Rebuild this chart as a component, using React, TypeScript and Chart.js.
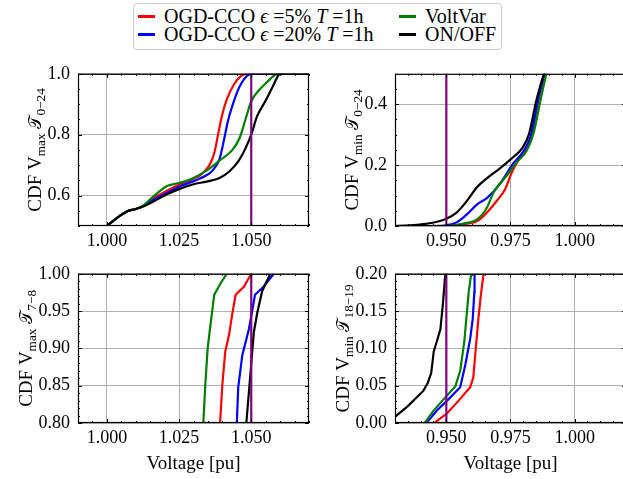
import React, { useEffect, useRef } from "react";
import { Chart, registerables } from "chart.js";

Chart.register(...registerables);

const FONT = "'Liberation Serif', 'Times New Roman', serif";
const TICK_SIZE = 18;
const LABEL_SIZE = 19;

// ---------- legend / series ----------
const SERIES_NAMES = ["OGD-CCO ϵ =5% T =1h", "OGD-CCO ϵ =20% T =1h", "VoltVar", "ON/OFF"];
const SERIES_COLORS = ["#ff0000", "#0000ff", "#008000", "#000000"];
const LIMIT_COLOR = "#800080";
const V_UPPER = 1.05;
const V_LOWER = 0.95;

// ---------- tick labels ----------
const XTICKS_VMAX = [1.0, 1.025, 1.05];
const XTICKS_VMIN = [0.95, 0.975, 1.0];
const YTICKS_VMAX_DAY = [0.6, 0.8, 1.0];
const YTICKS_VMIN_DAY = [0.0, 0.2, 0.4];
const YTICKS_VMAX_MORNING = [0.8, 0.85, 0.9, 0.95, 1.0];
const YTICKS_VMIN_EVENING = [0.0, 0.05, 0.1, 0.15, 0.2];

type Pt = [number, number];

// ---------- V_max, T 0-24 ----------
const VMAX_DAY_RED: Pt[] = [[1.0, 0.5], [1.004, 0.53], [1.0069, 0.548], [1.01, 0.556], [1.0126, 0.567], [1.016, 0.59], [1.02, 0.612], [1.0252, 0.636], [1.03, 0.655], [1.033, 0.672], [1.0355, 0.7], [1.0372, 0.74], [1.0385, 0.8], [1.0398, 0.86], [1.0415, 0.915], [1.044, 0.965], [1.0465, 0.993], [1.0485, 1.0], [1.07, 1.0]];
const VMAX_DAY_BLUE: Pt[] = [[1.0, 0.5], [1.004, 0.53], [1.0069, 0.548], [1.01, 0.556], [1.0126, 0.566], [1.016, 0.585], [1.02, 0.605], [1.0252, 0.63], [1.032, 0.655], [1.0366, 0.682], [1.039, 0.72], [1.0405, 0.78], [1.0418, 0.84], [1.0435, 0.896], [1.0458, 0.955], [1.0485, 0.993], [1.0503, 1.0], [1.07, 1.0]];
const VMAX_DAY_GREEN: Pt[] = [[1.0, 0.5], [1.004, 0.53], [1.0069, 0.548], [1.01, 0.556], [1.0126, 0.567], [1.015, 0.588], [1.018, 0.612], [1.021, 0.632], [1.0252, 0.642], [1.03, 0.658], [1.0345, 0.682], [1.039, 0.715], [1.0435, 0.75], [1.046, 0.79], [1.048, 0.85], [1.05, 0.91], [1.0526, 0.945], [1.0555, 0.973], [1.0585, 0.998], [1.06, 1.0], [1.07, 1.0]];
const VMAX_DAY_BLACK: Pt[] = [[1.0, 0.5], [1.004, 0.53], [1.0069, 0.548], [1.01, 0.556], [1.013, 0.566], [1.017, 0.585], [1.021, 0.605], [1.0252, 0.622], [1.03, 0.637], [1.0345, 0.646], [1.039, 0.658], [1.0425, 0.68], [1.0455, 0.712], [1.048, 0.755], [1.05, 0.8], [1.052, 0.86], [1.055, 0.912], [1.0578, 0.965], [1.0597, 0.998], [1.061, 1.0], [1.07, 1.0]];

// ---------- V_min, T 0-24 ----------
const VMIN_DAY_RED: Pt[] = [[0.93, 0.0], [0.95, 0.0], [0.9567, 0.006], [0.962, 0.016], [0.9658, 0.044], [0.9696, 0.082], [0.9729, 0.121], [0.9755, 0.176], [0.9787, 0.225], [0.9815, 0.262], [0.9834, 0.3], [0.9857, 0.405], [0.9884, 0.5], [0.9899, 0.54]];
const VMIN_DAY_BLUE: Pt[] = [[0.93, 0.0], [0.946, 0.0], [0.95, 0.002], [0.954, 0.012], [0.958, 0.038], [0.962, 0.071], [0.966, 0.093], [0.971, 0.14], [0.976, 0.205], [0.98, 0.245], [0.983, 0.3], [0.9855, 0.405], [0.9882, 0.5], [0.9897, 0.54]];
const VMIN_DAY_GREEN: Pt[] = [[0.93, 0.0], [0.95, 0.0], [0.9567, 0.008], [0.962, 0.022], [0.9658, 0.06], [0.9684, 0.11], [0.971, 0.14], [0.9735, 0.165], [0.9774, 0.209], [0.9813, 0.247], [0.9839, 0.302], [0.9864, 0.401], [0.989, 0.5], [0.9905, 0.54]];
const VMIN_DAY_BLACK: Pt[] = [[0.93, 0.0], [0.936, 0.002], [0.941, 0.006], [0.946, 0.013], [0.95, 0.024], [0.954, 0.044], [0.958, 0.082], [0.962, 0.128], [0.966, 0.158], [0.971, 0.19], [0.9755, 0.222], [0.9795, 0.255], [0.9822, 0.302], [0.985, 0.41], [0.988, 0.5], [0.9895, 0.54]];

// ---------- V_max, T 7-8 ----------
const VMAX_MORNING_RED: Pt[] = [[1.0391, 0.78], [1.0392, 0.8], [1.04, 0.852], [1.041, 0.896], [1.0423, 0.918], [1.0435, 0.948], [1.0446, 0.972], [1.0475, 0.983], [1.05, 1.0]];
const VMAX_MORNING_BLUE: Pt[] = [[1.0449, 0.78], [1.045, 0.8], [1.0455, 0.848], [1.0469, 0.891], [1.0492, 0.926], [1.0513, 0.972], [1.0543, 0.983], [1.0578, 1.0]];
const VMAX_MORNING_GREEN: Pt[] = [[1.0332, 0.78], [1.0334, 0.8], [1.0341, 0.852], [1.0349, 0.9], [1.0357, 0.926], [1.0372, 0.972], [1.0395, 0.988], [1.0415, 1.0]];
const VMAX_MORNING_BLACK: Pt[] = [[1.0482, 0.78], [1.0483, 0.8], [1.0498, 0.87], [1.0509, 0.922], [1.0521, 0.948], [1.0538, 0.977], [1.0566, 1.0]];

// ---------- V_min, T 18-19 ----------
const VMIN_EVENING_RED: Pt[] = [[0.9448, -0.003], [0.9453, 0.0], [0.9503, 0.013], [0.9548, 0.03], [0.9593, 0.048], [0.9605, 0.061], [0.9616, 0.105], [0.9625, 0.14], [0.9634, 0.17], [0.9645, 0.2]];
const VMIN_EVENING_BLUE: Pt[] = [[0.9418, -0.003], [0.9422, 0.0], [0.9464, 0.017], [0.9509, 0.032], [0.9554, 0.048], [0.9574, 0.078], [0.9593, 0.113], [0.9603, 0.14], [0.9609, 0.175], [0.961, 0.2]];
const VMIN_EVENING_GREEN: Pt[] = [[0.941, -0.003], [0.9415, 0.0], [0.9451, 0.017], [0.949, 0.032], [0.9535, 0.049], [0.9554, 0.07], [0.957, 0.109], [0.958, 0.148], [0.9587, 0.175], [0.9597, 0.2]];
const VMIN_EVENING_BLACK: Pt[] = [[0.928, 0.004], [0.9302, 0.009], [0.9348, 0.022], [0.941, 0.043], [0.9428, 0.054], [0.9441, 0.067], [0.9451, 0.096], [0.9466, 0.113], [0.9477, 0.126], [0.9487, 0.161], [0.9496, 0.2]];

// y-axis titles: [text, kind] kind 0=normal, 1=subscript, 2=calligraphic
type Part = [string, number];
const YLABEL_VMAX_DAY: Part[] = [["CDF V", 0], ["max", 1], [" ", 0], ["𝒯", 2], ["0−24", 1]];
const YLABEL_VMIN_DAY: Part[] = [["CDF V", 0], ["min", 1], [" ", 0], ["𝒯", 2], ["0−24", 1]];
const YLABEL_VMAX_MORNING: Part[] = [["CDF V", 0], ["max", 1], [" ", 0], ["𝒯", 2], ["7−8", 1]];
const YLABEL_VMIN_EVENING: Part[] = [["CDF V", 0], ["min", 1], [" ", 0], ["𝒯", 2], ["18−19", 1]];
const XLABEL = "Voltage [pu]";

type Spec = {
  left: number; top: number; w: number; h: number;
  yWidth: number; padTop: number; padRight: number; xHeight: number;
  xMin: number; xMax: number; yMin: number; yMax: number;
  xTicks: number[]; yTicks: number[]; xMinor: number; yMinor: number;
  xDigits: number; yDigits: number;
  curves: Pt[][]; limit: number; smooth: boolean;
  yLabel: Part[]; xLabel?: string;
};

function drawYTitle(ctx: CanvasRenderingContext2D, parts: Part[], x: number, cy: number) {
  const size = LABEL_SIZE;
  const sub = size * 0.7;
  const fonts = parts.map(([, k]) =>
    k === 1 ? `${sub}px ${FONT}` : k === 2 ? `${size * 0.9}px ${FONT}` : `${size}px ${FONT}`
  );
  const widths = parts.map(([t], i) => {
    ctx.font = fonts[i];
    return ctx.measureText(t).width;
  });
  const total = widths.reduce((a, b) => a + b, 0);
  ctx.save();
  ctx.translate(x, cy);
  ctx.rotate(-Math.PI / 2);
  ctx.fillStyle = "#000";
  ctx.textAlign = "left";
  ctx.textBaseline = "alphabetic";
  let pos = -total / 2;
  parts.forEach(([t, k], i) => {
    ctx.font = fonts[i];
    ctx.fillText(t, pos, k === 1 ? size * 0.25 : 0);
    pos += widths[i];
  });
  ctx.restore();
}

function makeFramePlugin(s: Spec) {
  return {
    id: "frameTicks",
    afterDatasetsDraw(chart: any) {
      const { ctx, chartArea: a } = chart;
      const xs = chart.scales.x;
      const ys = chart.scales.y;
      ctx.save();
      ctx.strokeStyle = "#000";
      ctx.lineWidth = 1;
      ctx.beginPath();
      const isMajor = (v: number, list: number[]) => list.some((m) => Math.abs(m - v) < 1e-9);
      const xv: [number, number][] = [];
      s.xTicks.forEach((v) => xv.push([v, 4]));
      for (let k = Math.ceil(s.xMin / s.xMinor - 1e-9); k * s.xMinor <= s.xMax + 1e-9; k++) {
        const v = +(k * s.xMinor).toFixed(6);
        if (!isMajor(v, s.xTicks)) xv.push([v, 2]);
      }
      xv.forEach(([v, len]) => {
        const px = Math.round(xs.getPixelForValue(v)) + 0.5;
        ctx.moveTo(px, a.bottom);
        ctx.lineTo(px, a.bottom - len);
        ctx.moveTo(px, a.top);
        ctx.lineTo(px, a.top + len);
      });
      const yv: [number, number][] = [];
      s.yTicks.forEach((v) => yv.push([v, 4]));
      for (let k = Math.ceil(s.yMin / s.yMinor - 1e-9); k * s.yMinor <= s.yMax + 1e-9; k++) {
        const v = +(k * s.yMinor).toFixed(6);
        if (!isMajor(v, s.yTicks)) yv.push([v, 2]);
      }
      yv.forEach(([v, len]) => {
        const py = Math.round(ys.getPixelForValue(v)) + 0.5;
        ctx.moveTo(a.left, py);
        ctx.lineTo(a.left + len, py);
        ctx.moveTo(a.right, py);
        ctx.lineTo(a.right - len, py);
      });
      ctx.stroke();
      ctx.lineWidth = 1.2;
      ctx.strokeRect(a.left + 0.5, a.top + 0.5, a.right - a.left - 1, a.bottom - a.top - 1);
      ctx.restore();
    },
    afterDraw(chart: any) {
      const { ctx, chartArea: a } = chart;
      const ys = chart.scales.y;
      ctx.save();
      ctx.font = `${TICK_SIZE}px ${FONT}`;
      let maxW = 0;
      ys.ticks.forEach((t: any) => {
        maxW = Math.max(maxW, ctx.measureText(String(t.label)).width);
      });
      ctx.restore();
      drawYTitle(ctx, s.yLabel, a.left - 8 - maxW - 7, (a.top + a.bottom) / 2);
    },
  };
}

function Panel({ s }: { s: Spec }) {
  const ref = useRef<HTMLCanvasElement>(null);
  useEffect(() => {
    const datasets: any[] = [
      {
        label: "limit",
        data: [{ x: s.limit, y: s.yMin - 1 }, { x: s.limit, y: s.yMax + 1 }],
        borderColor: LIMIT_COLOR,
        backgroundColor: LIMIT_COLOR,
        borderWidth: 2.2,
        pointRadius: 0,
        tension: 0,
        order: 0,
      },
      ...s.curves.map((c, i) => ({
        label: SERIES_NAMES[i],
        data: c.map(([x, y]) => ({ x, y })),
        borderColor: SERIES_COLORS[i],
        backgroundColor: SERIES_COLORS[i],
        borderWidth: 2.2,
        pointRadius: 0,
        tension: 0,
        cubicInterpolationMode: s.smooth ? "monotone" : "default",
        order: 4 - i,
      })),
    ];
    const chart = new Chart(ref.current as HTMLCanvasElement, {
      type: "line",
      data: { datasets },
      plugins: [makeFramePlugin(s)],
      options: {
        animation: false,
        responsive: false,
        maintainAspectRatio: false,
        devicePixelRatio: 1,
        events: [],
        layout: { padding: { top: s.padTop, right: s.padRight, left: 0, bottom: 0 } },
        plugins: { legend: { display: false }, tooltip: { enabled: false } },
        scales: {
          x: {
            type: "linear",
            min: s.xMin,
            max: s.xMax,
            afterBuildTicks: (sc: any) => {
              sc.ticks = s.xTicks.map((v) => ({ value: v }));
            },
            afterFit: (sc: any) => {
              sc.height = s.xHeight;
            },
            grid: { color: "#b0b0b0", lineWidth: 1, drawTicks: false },
            border: { display: false },
            ticks: {
              color: "#000",
              font: { family: FONT, size: TICK_SIZE },
              padding: 4,
              maxRotation: 0,
              autoSkip: false,
              callback: (v: any) => Number(v).toFixed(s.xDigits),
            },
            title: s.xLabel
              ? {
                  display: true,
                  text: s.xLabel,
                  color: "#000",
                  font: { family: FONT, size: LABEL_SIZE },
                  padding: { top: 0, bottom: 4 },
                }
              : { display: false },
          },
          y: {
            type: "linear",
            min: s.yMin,
            max: s.yMax,
            afterBuildTicks: (sc: any) => {
              sc.ticks = s.yTicks.map((v) => ({ value: v }));
            },
            afterFit: (sc: any) => {
              sc.width = s.yWidth;
            },
            grid: { color: "#b0b0b0", lineWidth: 1, drawTicks: false },
            border: { display: false },
            ticks: {
              color: "#000",
              font: { family: FONT, size: TICK_SIZE },
              padding: 8,
              autoSkip: false,
              callback: (v: any) => Number(v).toFixed(s.yDigits),
            },
          },
        },
      } as any,
    });
    return () => chart.destroy();
  }, []);
  return (
    <canvas
      ref={ref}
      width={s.w}
      height={s.h}
      style={{ position: "absolute", left: s.left, top: s.top, width: s.w, height: s.h }}
    />
  );
}

const LEGEND_POS: [number, number][] = [[0, 0], [0, 1], [1, 0], [1, 1]];

function renderName(name: string) {
  return name.split(/(ϵ|\bT\b)/).map((p, i) =>
    p === "ϵ" || p === "T" ? (
      <i key={i}>{p}</i>
    ) : (
      <span key={i}>{p}</span>
    )
  );
}

function LegendBox() {
  return (
    <div
      style={{
        position: "absolute",
        left: 133,
        top: 3,
        width: 369,
        height: 47,
        boxSizing: "border-box",
        border: "1px solid #cccccc",
        borderRadius: 4,
        background: "rgba(255,255,255,0.8)",
        fontFamily: FONT,
        fontSize: 20,
        color: "#000",
      }}
    >
      {SERIES_NAMES.map((n, i) => {
        const [col, row] = LEGEND_POS[i];
        const x0 = col === 0 ? 4 : 265;
        const cy = row === 0 ? 12 : 30;
        return (
          <div key={i}>
            <div
              style={{
                position: "absolute",
                left: x0,
                top: cy - 1,
                width: 17,
                height: 2.5,
                background: SERIES_COLORS[i],
              }}
            />
            <div
              style={{
                position: "absolute",
                left: x0 + 26,
                top: cy - 11,
                height: 22,
                lineHeight: "22px",
                whiteSpace: "nowrap",
              }}
            >
              {renderName(n)}
            </div>
          </div>
        );
      })}
    </div>
  );
}

const SPECS: Spec[] = [
  {
    left: 0, top: 55, w: 320, h: 200, yWidth: 78, padTop: 18, padRight: 11, xHeight: 29,
    xMin: 0.99, xMax: 1.07, yMin: 0.5, yMax: 1.0, xTicks: XTICKS_VMAX, yTicks: YTICKS_VMAX_DAY,
    xMinor: 0.005, yMinor: 0.05, xDigits: 3, yDigits: 1,
    curves: [VMAX_DAY_RED, VMAX_DAY_BLUE, VMAX_DAY_GREEN, VMAX_DAY_BLACK], limit: V_UPPER, smooth: true,
    yLabel: YLABEL_VMAX_DAY,
  },
  {
    left: 320, top: 55, w: 310, h: 200, yWidth: 75, padTop: 18, padRight: 4, xHeight: 29,
    xMin: 0.93, xMax: 1.02, yMin: 0.0, yMax: 0.5, xTicks: XTICKS_VMIN, yTicks: YTICKS_VMIN_DAY,
    xMinor: 0.005, yMinor: 0.05, xDigits: 3, yDigits: 1,
    curves: [VMIN_DAY_RED, VMIN_DAY_BLUE, VMIN_DAY_GREEN, VMIN_DAY_BLACK], limit: V_LOWER, smooth: true,
    yLabel: YLABEL_VMIN_DAY,
  },
  {
    left: 0, top: 255, w: 320, h: 224, yWidth: 78, padTop: 15, padRight: 11, xHeight: 56,
    xMin: 0.99, xMax: 1.07, yMin: 0.8, yMax: 1.0, xTicks: XTICKS_VMAX, yTicks: YTICKS_VMAX_MORNING,
    xMinor: 0.005, yMinor: 0.01, xDigits: 3, yDigits: 2,
    curves: [VMAX_MORNING_RED, VMAX_MORNING_BLUE, VMAX_MORNING_GREEN, VMAX_MORNING_BLACK], limit: V_UPPER, smooth: false,
    yLabel: YLABEL_VMAX_MORNING, xLabel: XLABEL,
  },
  {
    left: 320, top: 255, w: 310, h: 224, yWidth: 75, padTop: 15, padRight: 4, xHeight: 56,
    xMin: 0.93, xMax: 1.02, yMin: 0.0, yMax: 0.2, xTicks: XTICKS_VMIN, yTicks: YTICKS_VMIN_EVENING,
    xMinor: 0.005, yMinor: 0.01, xDigits: 3, yDigits: 2,
    curves: [VMIN_EVENING_RED, VMIN_EVENING_BLUE, VMIN_EVENING_GREEN, VMIN_EVENING_BLACK], limit: V_LOWER, smooth: false,
    yLabel: YLABEL_VMIN_EVENING, xLabel: XLABEL,
  },
];

export default function App() {
  return (
    <div
      style={{
        position: "fixed",
        left: 0,
        top: 0,
        width: 623,
        height: 479,
        overflow: "hidden",
        background: "#fff",
      }}
    >
      {SPECS.map((s, i) => (
        <Panel key={i} s={s} />
      ))}
      <LegendBox />
    </div>
  );
}
